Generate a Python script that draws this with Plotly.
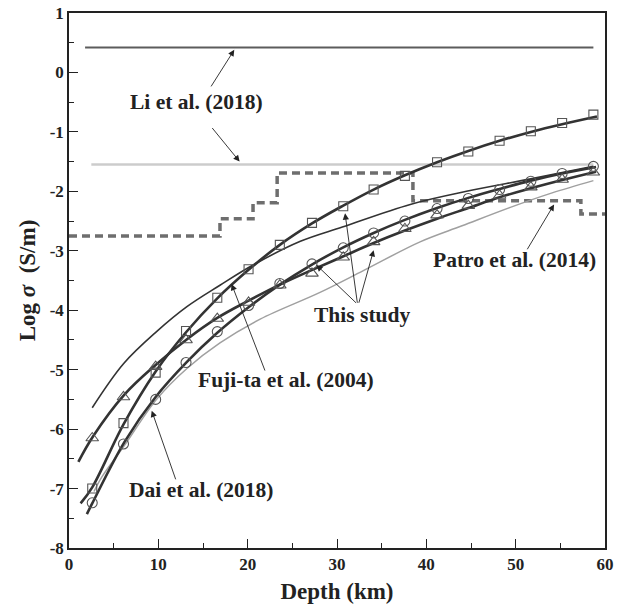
import plotly.graph_objects as go

# ---- data -------------------------------------------------------------
# This study: measured points (depth in km, log10 conductivity in S/m)
depth_pts = [2.6, 6.1, 9.7, 13.1, 16.6, 20.1, 23.6, 27.2, 30.7, 34.1,
             37.6, 41.2, 44.7, 48.2, 51.7, 55.2, 58.7]
sq_pts = [-7.00, -5.90, -5.05, -4.35, -3.79, -3.31, -2.90, -2.53, -2.25,
          -1.97, -1.74, -1.51, -1.33, -1.15, -0.99, -0.85, -0.71]
ci_pts = [-7.24, -6.25, -5.50, -4.88, -4.36, -3.92, -3.55, -3.22, -2.95,
          -2.70, -2.50, -2.29, -2.12, -1.97, -1.83, -1.70, -1.58]
tr_pts = [-6.15, -5.46, -4.95, -4.50, -4.14, -3.87, -3.58, -3.38, -3.11,
          -2.85, -2.63, -2.40, -2.24, -2.07, -1.93, -1.80, -1.68]

# This study: fitted curves
sq_fit_x = [1.3, 2.6, 6.1, 9.7, 13.1, 16.6, 20.1, 23.6, 27.2, 30.7, 34.1,
            37.6, 41.2, 44.7, 48.2, 51.7, 55.2, 59.1]
sq_fit_y = [-7.25, -6.98, -5.92, -5.03, -4.37, -3.80, -3.32, -2.90, -2.54,
            -2.24, -1.97, -1.73, -1.51, -1.32, -1.15, -1.00, -0.87, -0.74]
ci_fit_x = [2.0, 2.6, 6.2, 9.7, 13.2, 16.6, 20.1, 23.6, 27.1, 30.6, 34.1,
            37.6, 41.2, 44.7, 48.2, 51.7, 55.2, 59.0]
ci_fit_y = [-7.43, -7.25, -6.22, -5.46, -4.87, -4.38, -3.95, -3.57, -3.24,
            -2.95, -2.70, -2.48, -2.28, -2.11, -1.96, -1.82, -1.70, -1.59]
tr_fit_x = [1.05, 2.7, 6.2, 9.7, 13.1, 16.6, 20.1, 23.6, 27.1, 30.6, 34.1,
            37.6, 41.2, 44.7, 48.2, 51.7, 55.2, 59.0]
tr_fit_y = [-6.55, -6.12, -5.42, -4.92, -4.50, -4.13, -3.84, -3.57, -3.33,
            -3.10, -2.87, -2.66, -2.46, -2.28, -2.10, -1.95, -1.81, -1.67]

# Fuji-ta et al. (2004)
fujita_x = [2.6, 6.1, 9.8, 13.2, 16.9, 20.6, 25.9, 30.6, 38.2, 44.5, 51.7, 58.7]
fujita_y = [-5.64, -4.90, -4.36, -3.94, -3.58, -3.24, -2.84, -2.60, -2.22,
            -2.00, -1.79, -1.58]

# Dai et al. (2018)
dai_x = [2.8, 3.7, 6.1, 9.8, 13.2, 16.9, 21.4, 28.1, 33.0, 39.3, 44.0,
         49.4, 54.0, 58.7]
dai_y = [-7.05, -6.80, -6.30, -5.50, -4.98, -4.55, -4.15, -3.70, -3.33,
         -2.85, -2.58, -2.27, -2.03, -1.82]

# Li et al. (2018): two constant levels
li_upper_x = [1.8, 58.7]
li_upper_y = [0.42, 0.42]
li_lower_x = [2.5, 58.7]
li_lower_y = [-1.55, -1.55]

# Patro et al. (2014): layered model
patro_x = [0, 16.9, 20.6, 23.3, 38.5, 57.3, 60]
patro_y = [-2.75, -2.46, -2.19, -1.69, -2.16, -2.38, -2.38]

# axis ticks
x_ticks = [0, 10, 20, 30, 40, 50, 60]
x_ticklabels = ["0", "10", "20", "30", "40", "50", "60"]
y_ticks = [1, 0, -1, -2, -3, -4, -5, -6, -7, -8]
y_ticklabels = ["1", "0", "-1", "-2", "-3", "-4", "-5", "-6", "-7", "-8"]

# ---- figure -----------------------------------------------------------
SERIF = "Liberation Serif, Times New Roman, serif"
DARK = "#333333"

fig = go.Figure()

fig.add_trace(go.Scatter(x=li_upper_x, y=li_upper_y, mode="lines",
                         line=dict(color="#5c5c5c", width=2)))
fig.add_trace(go.Scatter(x=li_lower_x, y=li_lower_y, mode="lines",
                         line=dict(color="#cccccc", width=2.5)))
fig.add_trace(go.Scatter(x=patro_x, y=patro_y, mode="lines",
                         line=dict(color="#6e6e6e", width=3.5, shape="hv",
                                   dash="8px,5px")))
fig.add_trace(go.Scatter(x=dai_x, y=dai_y, mode="lines",
                         line=dict(color="#a0a0a0", width=1.5, shape="spline")))
fig.add_trace(go.Scatter(x=fujita_x, y=fujita_y, mode="lines",
                         line=dict(color=DARK, width=1.6, shape="spline")))

for fx, fy in [(sq_fit_x, sq_fit_y), (ci_fit_x, ci_fit_y), (tr_fit_x, tr_fit_y)]:
    fig.add_trace(go.Scatter(x=fx, y=fy, mode="lines",
                             line=dict(color=DARK, width=2.6, shape="spline")))

for ys, sym, sz in [(sq_pts, "square-open", 9), (ci_pts, "circle-open", 10),
                    (tr_pts, "triangle-up-open", 11)]:
    fig.add_trace(go.Scatter(x=depth_pts, y=ys, mode="markers",
                             marker=dict(symbol=sym, size=sz, color="#555555",
                                         line=dict(width=1.1, color="#555555"))))

# ---- labels and arrows -----------------------------------------------
label_font = dict(family=SERIF, size=21.5, color="#222222", weight="bold")
labels = [
    ("Li et al. (2018)", 14.3, -0.49),
    ("Patro et al. (2014)", 49.9, -3.16),
    ("This study", 32.8, -4.08),
    ("Fuji-ta et al. (2004)", 24.3, -5.18),
    ("Dai et al. (2018)", 14.8, -7.03),
]
for txt, lx, ly in labels:
    fig.add_annotation(x=lx, y=ly, xref="x", yref="y", text=txt,
                       showarrow=False, font=label_font,
                       xanchor="center", yanchor="middle")

arrows = [
    # (head x, head y, tail x, tail y)
    (18.5, 0.38, 15.8, -0.26),
    (19.1, -1.50, 15.9, -0.91),
    (54.3, -2.22, 51.2, -3.00),
    (27.7, -3.24, 32.3, -3.90),
    (30.9, -2.37, 32.3, -3.90),
    (34.1, -2.99, 32.4, -3.90),
    (18.2, -3.56, 22.0, -5.04),
    (9.26, -5.69, 12.0, -6.87),
]
for hx, hy, tx, ty in arrows:
    fig.add_annotation(x=hx, y=hy, ax=tx, ay=ty, xref="x", yref="y",
                       axref="x", ayref="y", text="", showarrow=True,
                       arrowhead=2, arrowsize=1.4, arrowwidth=0.9,
                       arrowcolor="#222222", standoff=0, startstandoff=0)

tick_font = dict(family=SERIF, size=17, color="#222222", weight="bold")
title_font = dict(family=SERIF, size=23, color="#222222", weight="bold")

fig.update_xaxes(
    range=[0, 60], tickmode="array", tickvals=x_ticks, ticktext=x_ticklabels,
    ticks="inside", ticklen=9, tickwidth=1.3, tickcolor="#222222",
    minor=dict(tickmode="linear", tick0=0, dtick=5, ticks="inside",
               ticklen=5, tickwidth=1.3, tickcolor="#222222"),
    showline=True, linewidth=1.6, linecolor="#222222", mirror=True,
    showgrid=False, zeroline=False, tickfont=tick_font,
    title=dict(text="Depth (km)", font=title_font, standoff=10),
)
fig.update_yaxes(
    range=[-8, 1], tickmode="array", tickvals=y_ticks, ticktext=y_ticklabels,
    ticks="inside", ticklen=9, tickwidth=1.3, tickcolor="#222222",
    minor=dict(tickmode="linear", tick0=0, dtick=0.5, ticks="inside",
               ticklen=5, tickwidth=1.3, tickcolor="#222222"),
    showline=True, linewidth=1.6, linecolor="#222222", mirror=True,
    showgrid=False, zeroline=False, tickfont=tick_font,
    title=dict(text="Log <i>σ</i>  (S/m)", font=title_font, standoff=8),
)

fig.update_layout(
    width=623, height=608,
    margin=dict(l=69, r=18, t=13, b=60, autoexpand=False),
    plot_bgcolor="white", paper_bgcolor="white",
    showlegend=False,
)

fig.write_html("out.html")
